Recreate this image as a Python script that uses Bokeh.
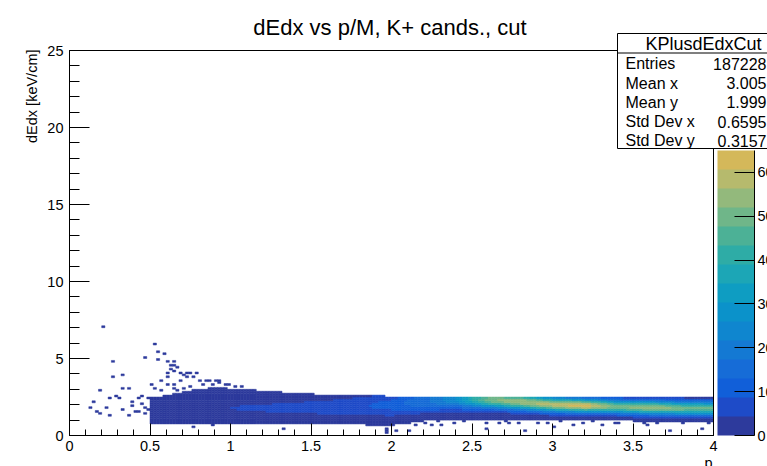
import numpy as np
from bokeh.plotting import figure
from bokeh.models import (Range1d, FixedTicker, NumeralTickFormatter, ColorBar,
                          LinearColorMapper, Label, BoxAnnotation, ColumnDataSource)
from bokeh.transform import linear_cmap
from bokeh.embed import file_html
from bokeh.resources import INLINE

# ---------------- texts ----------------
TITLE = "dEdx vs p/M, K+ cands., cut"
X_TITLE = "p"
Y_TITLE = "dEdx [keV/cm]"
HIST_NAME = "KPlusdEdxCut"
STAT_NAMES = ["Entries", "Mean x", "Mean y", "Std Dev x", "Std Dev y"]
STAT_VALUES = ["187228", "3.005", "1.999", "0.6595", "0.3157"]

# ---------------- axes ----------------
X_MIN, X_MAX = 0, 4
Y_MIN, Y_MAX = 0, 25
X_TICKS = [0, 0.5, 1, 1.5, 2, 2.5, 3, 3.5, 4]
Y_TICKS = [0, 5, 10, 15, 20, 25]
Z_TICKS = [0, 10, 20, 30, 40, 50, 60]
Z_MAX = 65

# ---------------- histogram binning ----------------
X_BIN = 0.02
Y_BIN = 0.125

# ---------------- band profile, per momentum knot ----------------
KNOT_P     = [0.50, 0.60, 0.70, 0.80, 0.90, 1.00, 1.20, 1.40, 1.60, 1.80, 2.00,
              2.20, 2.40, 2.60, 2.80, 3.00, 3.20, 3.40, 3.60, 3.80, 4.00]
BAND_LOW   = [1.45, 1.40, 1.35, 1.30, 1.30, 1.25, 1.25, 1.25, 1.25, 1.10, 1.05,
              1.05, 1.05, 1.05, 1.05, 1.05, 1.05, 1.05, 1.05, 1.05, 1.05]
BAND_HIGH  = [2.45, 2.60, 2.80, 3.00, 3.10, 3.05, 2.90, 2.75, 2.65, 2.60, 2.55,
              2.55, 2.55, 2.55, 2.55, 2.55, 2.55, 2.55, 2.55, 2.55, 2.55]
CORE_Y     = [1.80, 1.80, 1.80, 1.80, 1.80, 1.80, 1.80, 1.82, 1.85, 1.92, 2.00,
              2.25, 2.40, 2.34, 2.20, 2.02, 1.95, 1.88, 1.83, 1.78, 1.77]
CORE_WIDTH = [0.50, 0.50, 0.50, 0.50, 0.50, 0.50, 0.50, 0.50, 0.50, 0.52, 0.55,
              0.50, 0.45, 0.38, 0.35, 0.32, 0.30, 0.30, 0.30, 0.30, 0.30]
PEAK_COUNT = [4, 4, 4, 4, 4, 4.5, 5, 5.5, 6.5, 8, 10,
              16, 26, 50, 56, 58, 64, 50, 55, 50, 48]

# ---------------- isolated cells (p, dEdx) ----------------
LONE_P = [0.21, 0.27, 0.27, 0.33, 0.19, 0.14, 0.13, 0.17, 0.19, 0.22, 0.25, 0.28, 0.30,
          0.33, 0.37, 0.33, 0.25, 0.38, 0.39, 0.42, 0.44, 0.46, 0.49, 0.50, 0.37, 0.47,
          0.47, 0.41, 0.45, 0.48, 0.43,
          0.534, 0.55, 0.586, 0.55, 0.607, 0.648, 0.627, 0.657, 0.607, 0.657, 0.69, 0.72,
          0.75, 0.79, 0.576, 0.617, 0.68, 0.657, 0.73, 0.77, 0.565, 0.52, 0.60, 0.64,
          0.70, 0.67, 0.63, 0.81, 0.85, 0.87, 0.90, 0.92, 0.94, 0.96, 0.98, 0.74,
          0.83, 0.66, 0.71, 0.88, 1.03, 1.07,
          0.77, 0.886, 1.10, 1.25, 1.33, 1.48, 1.66, 1.81, 1.89, 1.96, 1.96, 1.96, 1.96,
          2.03, 2.10, 2.15, 2.20, 2.26, 2.32, 2.39, 2.59, 2.59, 2.66, 2.72, 2.78, 2.83,
          2.90, 2.97, 3.01, 3.13, 3.19, 3.30, 3.38, 3.41, 3.57, 3.59, 3.65, 3.73, 3.80,
          3.84, 3.92, 3.97,
          2.05, 2.30, 2.45, 2.52, 2.70, 2.85, 3.05, 3.25, 3.50, 3.70, 3.90]
LONE_Y = [7.08, 4.80, 3.83, 3.96, 2.88, 2.16, 1.84, 1.62, 1.42, 1.80, 2.49, 2.50, 2.38,
          3.03, 3.03, 1.73, 1.30, 2.16, 1.88, 2.38, 2.06, 1.84, 2.38, 3.25, 1.30, 1.41,
          5.08, 1.60, 2.60, 1.70, 1.55,
          5.90, 5.48, 5.30, 4.95, 4.87, 4.87, 4.55, 4.55, 4.10, 4.20, 4.10, 4.10,
          4.10, 4.10, 3.60, 3.83, 3.57, 3.25, 3.83, 3.83, 2.97, 3.10, 3.30, 3.00,
          3.90, 4.40, 4.30, 3.60, 3.60, 3.55, 3.60, 3.50, 3.40, 3.35, 3.30, 3.20,
          3.25, 2.90, 3.10, 3.30, 3.20, 3.15,
          0.54, 0.71, 1.00, 0.86, 0.48, 1.00, 0.90, 0.95, 0.86, 0.65, 0.32, 0.43, 0.22,
          0.32, 0.32, 0.65, 0.76, 0.65, 0.65, 0.86, 0.43, 0.76, 0.86, 0.76, 0.76, 0.26,
          0.76, 0.86, 0.54, 0.65, 0.76, 0.65, 0.76, 0.86, 0.76, 0.65, 0.86, 0.32, 0.86,
          0.97, 0.43, 0.86,
          0.97, 0.97, 0.92, 1.00, 0.97, 1.00, 0.95, 0.97, 1.00, 0.97, 1.00]

# ---------------- palette (colour-bar bands, bottom to top) ----------------
PALETTE = ["#2d3a9c", "#1e4bc8", "#115fd9", "#166cd7", "#1479d3", "#0f86cf",
           "#0b92ca", "#0e9dc2", "#1ca6b6", "#2eaca6", "#4cb196", "#6fb689",
           "#93b97c", "#b6ba6d", "#d4b85a"]

FONT = "Liberation Sans"

# ---------------- build the histogram cells ----------------
nx = int(round((X_MAX - X_MIN) / X_BIN))
ny = int(round(8.0 / Y_BIN))
xc = X_MIN + (np.arange(nx) + 0.5) * X_BIN
yc = (np.arange(ny) + 0.5) * Y_BIN
lo = np.interp(xc, KNOT_P, BAND_LOW)
hi = np.interp(xc, KNOT_P, BAND_HIGH)
core = np.interp(xc, KNOT_P, CORE_Y)
wid = np.interp(xc, KNOT_P, CORE_WIDTH)
peak = np.interp(xc, KNOT_P, PEAK_COUNT)
X, Y = np.meshgrid(xc, yc, indexing="ij")
G = peak[:, None] * np.exp(-0.5 * ((Y - core[:, None]) / wid[:, None]) ** 2)
inside = (Y >= lo[:, None]) & (Y <= hi[:, None])
below = Y < lo[:, None]
counts = np.where(inside, np.maximum(1, np.round(G)), np.where(below, np.round(G), 0))
counts[(X < KNOT_P[0]) | (X > KNOT_P[-1])] = 0
for px, py in zip(LONE_P, LONE_Y):
    i = min(nx - 1, int(px / X_BIN))
    j = min(ny - 1, int(py / Y_BIN))
    counts[i, j] = max(counts[i, j], 1)

ii, jj = np.nonzero(counts > 0)
src = ColumnDataSource(dict(x=xc[ii], y=yc[jj], count=counts[ii, jj]))

# ---------------- page geometry (canvas pixels) ----------------
W, H = 767, 466
FRAME_L, FRAME_R, FRAME_T, FRAME_B = 69, 713, 50, 435
sx_per = (FRAME_R - FRAME_L) / (X_MAX - X_MIN)
sy_per = (FRAME_B - FRAME_T) / (Y_MAX - Y_MIN)
x_range = Range1d(X_MIN - FRAME_L / sx_per, X_MAX + (W - FRAME_R) / sx_per)
y_range = Range1d(Y_MIN - (H - FRAME_B) / sy_per, Y_MAX + FRAME_T / sy_per)

p = figure(width=W, height=H, x_range=x_range, y_range=y_range, title=None,
           output_backend="svg", toolbar_location=None,
           min_border=0, min_border_left=0, min_border_right=0,
           min_border_top=0, min_border_bottom=0)
p.grid.visible = False
p.outline_line_color = None
p.background_fill_color = "white"
p.border_fill_color = "white"

cmap = linear_cmap("count", PALETTE, 0, Z_MAX)
p.rect(x="x", y="y", width=X_BIN, height=Y_BIN, source=src,
       fill_color=cmap, line_color=cmap, line_width=0.5)

# axes drawn at the histogram's own edges (ROOT style: ticks inside)
xa = p.xaxis[0]
xa.fixed_location = Y_MIN
xa.bounds = (X_MIN, X_MAX)
xa.ticker = FixedTicker(ticks=X_TICKS, minor_ticks=list(np.round(np.arange(0, 4.001, 0.1), 2)))
xa.formatter = NumeralTickFormatter(format="0.[0]")
xa.major_tick_in = 12
xa.major_tick_out = 0
xa.minor_tick_in = 6
xa.minor_tick_out = 0
xa.major_label_standoff = 5
ya = p.yaxis[0]
ya.fixed_location = X_MIN
ya.bounds = (Y_MIN, Y_MAX)
ya.ticker = FixedTicker(ticks=Y_TICKS, minor_ticks=list(range(0, 26)))
ya.major_tick_in = 20
ya.major_tick_out = 0
ya.minor_tick_in = 10
ya.minor_tick_out = 0
ya.major_label_standoff = 6
for ax in (xa, ya):
    ax.axis_line_color = "black"
    ax.major_tick_line_color = "black"
    ax.minor_tick_line_color = "black"
    ax.major_label_text_font = FONT
    ax.major_label_text_font_size = "14.5px"
    ax.major_label_text_color = "black"

# frame box around the histogram area
p.add_layout(BoxAnnotation(left=X_MIN, right=X_MAX, bottom=Y_MIN, top=Y_MAX,
                           fill_color=None, fill_alpha=0, line_color="black",
                           line_width=1, line_alpha=1))


def scr_x(cx):
    return cx


def scr_y(cy):
    return H - cy


# colour bar
mapper = LinearColorMapper(palette=PALETTE, low=0, high=Z_MAX)
cb = ColorBar(color_mapper=mapper, location=(scr_x(717), scr_y(FRAME_B)), orientation="vertical",
              width=37, height=285, padding=0, margin=0,
              ticker=FixedTicker(ticks=Z_TICKS), major_tick_in=20, major_tick_out=0,
              major_tick_line_color="black", minor_tick_line_color=None,
              label_standoff=3, major_label_text_font=FONT,
              major_label_text_font_size="14.5px", major_label_text_color="black",
              bar_line_color=None, border_line_color=None, background_fill_alpha=0)
p.add_layout(cb, "center")

# colour-bar axis line
p.add_layout(BoxAnnotation(left=scr_x(753.5), right=scr_x(754.5), bottom=scr_y(FRAME_B),
                           top=scr_y(150),
                           left_units="screen", right_units="screen",
                           top_units="screen", bottom_units="screen",
                           fill_color="black", fill_alpha=1, line_color=None))

# title and axis titles
p.add_layout(Label(x=scr_x(389.5), y=scr_y(27), x_units="screen", y_units="screen",
                   text=TITLE, text_font=FONT, text_font_size="22px", text_align="center",
                   text_baseline="alphabetic", text_color="black"))
p.add_layout(Label(x=scr_x(31), y=scr_y(49), x_units="screen", y_units="screen",
                   text=Y_TITLE, angle=np.pi / 2, text_font=FONT, text_font_size="14.5px",
                   text_align="right", text_baseline="alphabetic", text_color="black"))
p.add_layout(Label(x=scr_x(712), y=scr_y(462), x_units="screen", y_units="screen",
                   text=X_TITLE, text_font=FONT, text_font_size="14.5px",
                   text_align="right", text_baseline="alphabetic", text_color="black"))

# statistics box
p.add_layout(BoxAnnotation(left=scr_x(617), right=scr_x(800), top=scr_y(33), bottom=scr_y(148),
                           left_units="screen", right_units="screen",
                           top_units="screen", bottom_units="screen",
                           fill_color="white", fill_alpha=1, line_color="black",
                           line_width=1, line_alpha=1, level="overlay"))
p.add_layout(BoxAnnotation(left=scr_x(617), right=scr_x(800), top=scr_y(52), bottom=scr_y(53),
                           left_units="screen", right_units="screen",
                           top_units="screen", bottom_units="screen",
                           fill_color="black", fill_alpha=1, line_color=None, level="overlay"))
p.add_layout(Label(x=scr_x(703), y=scr_y(43), x_units="screen", y_units="screen",
                   text=HIST_NAME, text_font=FONT, text_font_size="18px",
                   text_align="center", text_baseline="middle", text_color="black",
                   level="overlay"))
ROW_Y = [63, 82.5, 101.5, 121, 140]
for name, val, ry in zip(STAT_NAMES, STAT_VALUES, ROW_Y):
    p.add_layout(Label(x=scr_x(625), y=scr_y(ry), x_units="screen", y_units="screen",
                       text=name, text_font=FONT, text_font_size="16px",
                       text_align="left", text_baseline="middle", text_color="black",
                       level="overlay"))
    p.add_layout(Label(x=scr_x(766), y=scr_y(ry), x_units="screen", y_units="screen",
                       text=val, text_font=FONT, text_font_size="16px",
                       text_align="right", text_baseline="middle", text_color="black",
                       level="overlay"))

open("out.html", "w").write(file_html(p, INLINE))
